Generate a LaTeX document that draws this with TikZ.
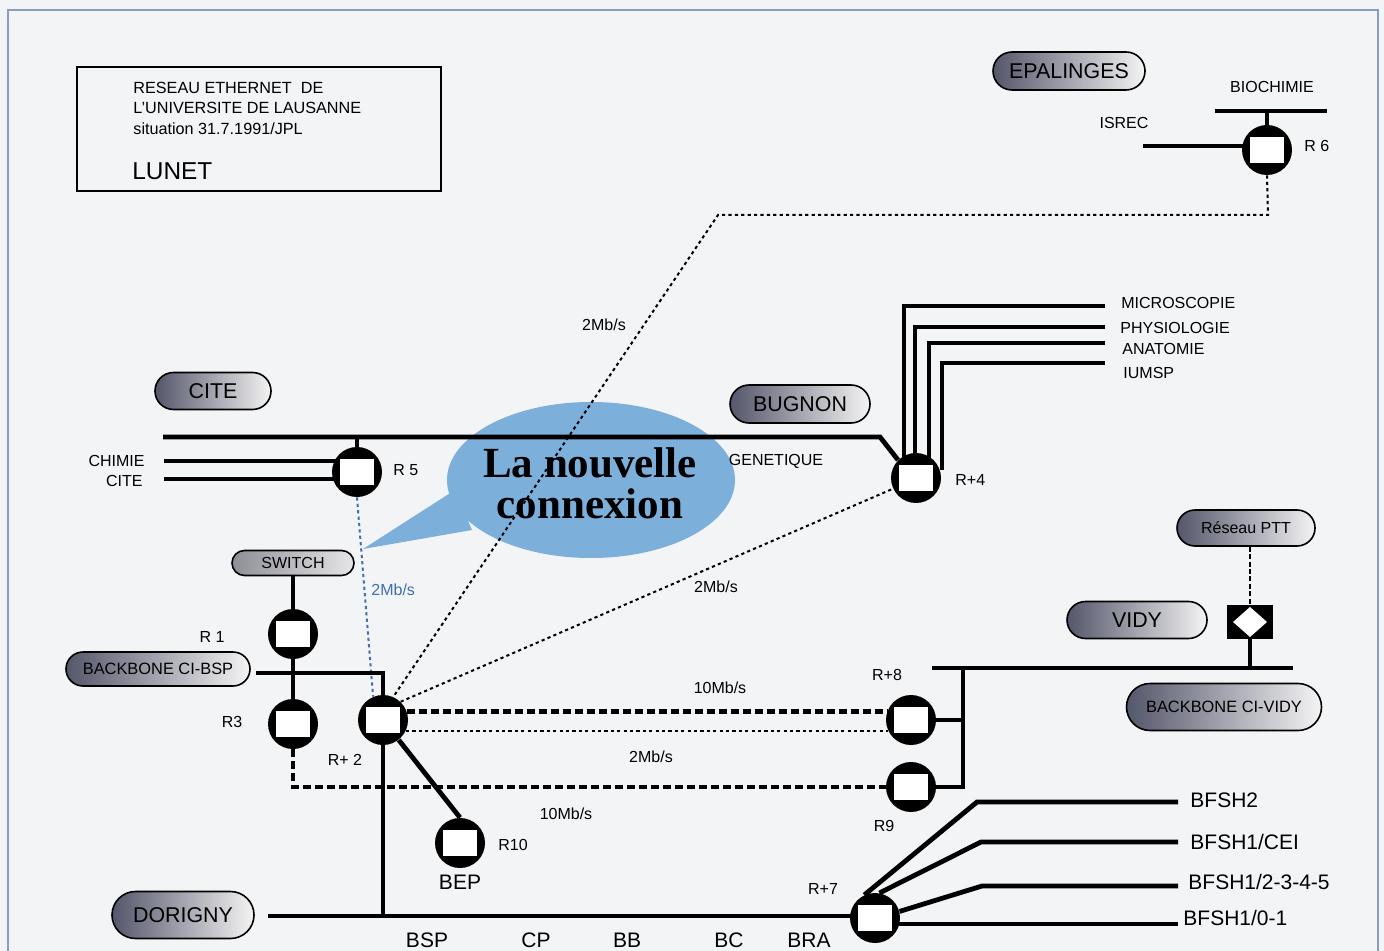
\documentclass[tikz,border=0pt]{standalone}
\usepackage{fontspec}
\setmainfont{Liberation Sans}
\newfontfamily\bubblefont{Liberation Serif}
\usetikzlibrary{shapes.misc}

\definecolor{paper}{HTML}{F3F4F6}
\definecolor{frameblue}{HTML}{8A9CC0}
\definecolor{bubbleblue}{HTML}{7DAFDB}
\definecolor{ratetext}{HTML}{3D6FB8}
\definecolor{pilldark}{HTML}{54566A}
\definecolor{pilllight}{HTML}{F4F4F4}
\definecolor{switchdark}{HTML}{8E8E98}
\definecolor{switchlight}{HTML}{E6E6E8}

\pgfdeclarelayer{bubblelayer}
\pgfdeclarelayer{wires}
\pgfsetlayers{bubblelayer,wires,main}

\tikzset{
  site/.style={rounded rectangle, draw=black, line width=0.8pt, left color=pilldark, right color=pilllight, inner sep=0pt, text=black},
  router/.style={circle, fill=black, minimum size=25pt, inner sep=0pt,
    path picture={\draw[fill=white, line width=0.5pt] ([shift={(-8.8pt,-6.8pt)}]path picture bounding box.center) rectangle ([shift={(8.8pt,6.8pt)}]path picture bounding box.center);}},
  gateway/.style={fill=black, minimum width=23pt, minimum height=17pt, inner sep=0pt,
    path picture={\fill[white] ([xshift=-8.5pt]path picture bounding box.center) -- ([yshift=7.5pt]path picture bounding box.center) -- ([xshift=8.5pt]path picture bounding box.center) -- ([yshift=-7.5pt]path picture bounding box.center) -- cycle;}},
  seg/.style={line width=2.4pt},
  subseg/.style={line width=1.7pt},
  slowlink/.style={line width=1pt, dash pattern=on 1.6pt off 1.6pt},
  fastlink/.style={line width=2.2pt, dash pattern=on 4pt off 2pt},
  pttlink/.style={line width=1.4pt, dash pattern=on 2.5pt off 1.2pt},
  lbl/.style={font=\fontsize{8}{9.6}\selectfont, inner sep=0pt},
  biglbl/.style={font=\fontsize{10.5}{12}\selectfont, inner sep=0pt},
  sitefont/.style={font=\fontsize{10.7}{12}\selectfont},
}

\begin{document}
\begin{tikzpicture}[x=0.5pt,y=-0.5pt]
\useasboundingbox (0,0) rectangle (1384,951);
\begin{pgfonlayer}{bubblelayer}
  \fill[paper] (0,0) rectangle (1384,951);
  \draw[frameblue, line width=1pt] (8,951) -- (8,10) -- (1378,10) -- (1378,951);
  \fill[bubbleblue] (591,480) ellipse (144 and 78);
  \fill[bubbleblue] (455,490) -- (363,549) -- (472,530) -- cycle;
\end{pgfonlayer}

\node (title) [draw, line width=0.9pt, minimum width=182pt, minimum height=62pt] at (259,129) {};
\node (titletext) [anchor=west, align=left, font=\fontsize{8.1}{10.25}\selectfont, inner sep=0pt] at (133,108) {RESEAU ETHERNET\ \ DE\\L'UNIVERSITE DE LAUSANNE\\situation 31.7.1991/JPL};
\node (lunet) [anchor=west, font=\fontsize{12.2}{14}\selectfont, inner sep=0pt] at (132,171) {LUNET};

\node (epalinges) [site, sitefont, minimum width=76pt, minimum height=19pt] at (1069,71) {EPALINGES};
\node (cite) [site, sitefont, minimum width=58pt, minimum height=18.5pt] at (213,391) {CITE};
\node (bugnon) [site, sitefont, minimum width=70pt, minimum height=19pt] at (800,404) {BUGNON};
\node (switch) [site, left color=switchdark, right color=switchlight, font=\fontsize{8}{9}\selectfont, minimum width=61pt, minimum height=12.5pt] at (293,563) {SWITCH};
\node (bbbsp) [site, font=\fontsize{8.2}{9}\selectfont, minimum width=92pt, minimum height=17pt] at (158,669) {BACKBONE CI-BSP};
\node (dorigny) [site, sitefont, minimum width=71pt, minimum height=23.5pt] at (183,915) {DORIGNY};
\node (ptt) [site, font=\fontsize{8}{9}\selectfont, minimum width=69pt, minimum height=18pt] at (1246,528) {Réseau PTT};
\node (vidy) [site, sitefont, minimum width=70pt, minimum height=18.5pt] at (1137,620) {VIDY};
\node (bbvidy) [site, font=\fontsize{8.2}{9}\selectfont, minimum width=97.5pt, minimum height=23.5pt] at (1224,707) {BACKBONE CI-VIDY};

\node (r6) [router] at (1267,150) {};
\node (r5) [router] at (357,472) {};
\node (rp4) [router] at (916,478) {};
\node (r1) [router] at (293,634) {};
\node (r3) [router] at (293,724) {};
\node (rp2) [router] at (383,720) {};
\node (r10) [router] at (460,843) {};
\node (rp8) [router] at (911,720) {};
\node (r9) [router] at (911,787) {};
\node (rp7) [router] at (875,918) {};
\node (gw) [gateway] at (1250,622) {};

\node (bubbletext) [font=\bubblefont\bfseries\fontsize{21.5}{20.5}\selectfont, align=center, inner sep=0pt] at (590,483) {La nouvelle\\connexion};

\node (biochimie) [lbl] at (1272,87) {BIOCHIMIE};
\node (isrec) [lbl] at (1124,123) {ISREC};
\node (r6lbl) [lbl, anchor=west] at (1304,146) {R 6};
\node (microscopie) [lbl, anchor=west] at (1121,303) {MICROSCOPIE};
\node (physiologie) [lbl, anchor=west] at (1120,328) {PHYSIOLOGIE};
\node (anatomie) [lbl, anchor=west] at (1122,349) {ANATOMIE};
\node (iumsp) [lbl, anchor=west] at (1123,373) {IUMSP};
\node (genetique) [lbl] at (776,461) {GENETIQUE};
\node (rp4lbl) [lbl, anchor=west] at (955,480) {R+4};
\node (chimie) [lbl, anchor=east] at (145,461) {CHIMIE};
\node (citesub) [lbl, anchor=east] at (143,481) {CITE};
\node (r5lbl) [lbl, anchor=west] at (393,470) {R 5};
\node (rate1) [lbl, anchor=west, text=ratetext] at (371,590) {2Mb/s};
\node (rate2) [lbl] at (604,325) {2Mb/s};
\node (rate3) [lbl] at (716,587) {2Mb/s};
\node (rate4) [lbl] at (720,688) {10Mb/s};
\node (rate5) [lbl] at (651,757) {2Mb/s};
\node (rate6) [lbl] at (566,814) {10Mb/s};
\node (r1lbl) [lbl] at (212,637) {R 1};
\node (r3lbl) [lbl] at (232,722) {R3};
\node (rp2lbl) [lbl] at (345,760) {R+ 2};
\node (r10lbl) [lbl, anchor=west] at (498,845) {R10};
\node (bep) [biglbl] at (460,882) {BEP};
\node (rp8lbl) [lbl] at (887,675) {R+8};
\node (r9lbl) [lbl] at (884,826) {R9};
\node (rp7lbl) [lbl] at (823,889) {R+7};
\node (bfsha) [biglbl, anchor=west] at (1190,800) {BFSH2};
\node (bfshb) [biglbl, anchor=west] at (1190,842) {BFSH1/CEI};
\node (bfshc) [biglbl, anchor=west] at (1188,882) {BFSH1/2-3-4-5};
\node (bfshd) [biglbl, anchor=west] at (1183,918) {BFSH1/0-1};
\foreach \name/\x in {BSP/427, CP/536, BB/627, BC/729, BRA/809}
  \node (bat\name) [biglbl] at (\x,940) {\name};

\coordinate (bioL) at (1215,111);
\coordinate (bioR) at (1327,111);
\coordinate (isrecL) at (1143,146);
\coordinate (bendE) at (1268,215);
\coordinate (bendW) at (718,215);
\coordinate (citeL) at (163,437);
\coordinate (citeR) at (880,437);
\coordinate (chimieL) at (164,461);
\coordinate (citesubL) at (164,479);
\coordinate (bbbspR) at (256,673);
\coordinate (r3bend) at (293,787);
\coordinate (dorL) at (268,916);
\coordinate (vidyL) at (932,668);
\coordinate (vidyR) at (1293,668);
\coordinate (vidyjoin) at (963,668);
\coordinate (bfshdR) at (1178,924);

\begin{pgfonlayer}{wires}
  \draw[seg] (bioL) -- (bioR);
  \draw[seg] (r6) -- (r6 |- bioL);
  \draw[seg] (isrecL) -- (r6.center |- isrecL);
  \draw[slowlink] (r6.south) -- (bendE) -- (bendW) -- (rp2.66);
  \draw[seg] (citeL) -- (citeR) -- (rp4.135);
  \draw[seg] (r5) -- (r5 |- citeL);
  \draw[subseg] (chimieL) -- (chimieL -| r5);
  \draw[subseg] (citesubL) -- (citesubL -| r5);
  \foreach \dx/\hy in {-6/306, -0.5/327, 6.5/343, 13/363}
    \draw[subseg] ([shift={(\dx pt,4pt)}]rp4.center) |- (1105,\hy);
  \draw[slowlink, ratetext] (r5.south) -- (rp2.113);
  \draw[slowlink] (rp2.46) -- (rp4.205);
  \draw[seg] (switch.south) -- (r1);
  \draw[seg] (r1) -- (r3);
  \draw[seg] (bbbspR) -| (rp2);
  \draw[seg] (rp2) -- (rp2 |- dorL);
  \draw[seg] (rp2) -- (r10.north);
  \draw[seg] (dorL) -- (dorL -| rp7);
  \draw[fastlink] (r3.south) -- (r3bend) -- (r9.west);
  \draw[fastlink] (rp2.20) -- (rp8.160);
  \draw[slowlink] (rp2.-25) -- (rp8.205);
  \draw[seg] (vidyL) -- (vidyR);
  \draw[subseg] (rp8) -| (vidyjoin);
  \draw[subseg] (r9) -| (vidyjoin);
  \draw[seg] (gw) -- (gw |- vidyL);
  \draw[pttlink] (gw.north |- ptt.south) -- (gw.north);
  \draw[seg] (rp7.115) -- (977,802) -- (1178,802);
  \draw[seg] (rp7.80) -- (981,842) -- (1178,842);
  \draw[seg] (rp7.15) -- (982,886) -- (1178,886);
  \draw[seg] (rp7 |- bfshdR) -- (bfshdR);
\end{pgfonlayer}
\end{tikzpicture}
\end{document}
